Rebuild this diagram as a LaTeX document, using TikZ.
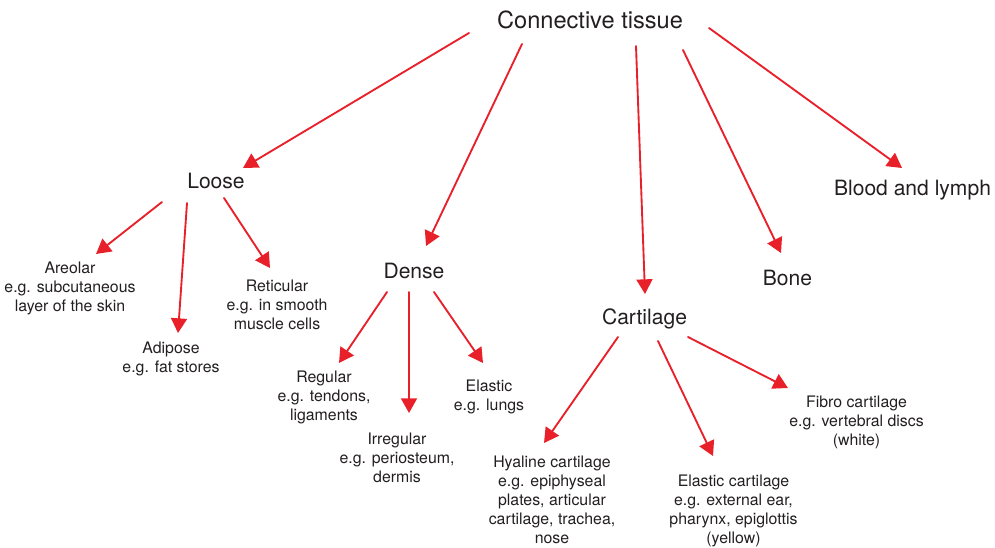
\documentclass[tikz,border=0pt]{standalone}
\usepackage{fontspec}
\setmainfont{TeX Gyre Heros}
\usetikzlibrary{arrows.meta,calc}

\begin{document}
\begin{tikzpicture}[
    x=0.75pt,
    y=-0.75pt,
    line cap=round,
    line join=round
]

\definecolor{ArrowRed}{HTML}{E8202A}
\definecolor{InkGray}{HTML}{231F20}

\tikzset{
    top label/.style={
        text=InkGray,
        inner sep=0pt,
        anchor=base,
        font=\fontsize{17.7}{21}\selectfont
    },
    group label/.style={
        text=InkGray,
        inner sep=0pt,
        anchor=base,
        font=\fontsize{15.8}{19}\selectfont
    },
    % multi-line: base sits on the last line
    type label/.style={
        text=InkGray,
        inner sep=0pt,
        anchor=base,
        align=center,
        font=\fontsize{11.9}{14.25}\selectfont
    },
    branch/.style={
        draw=ArrowRed,
        line width=1.4pt,
        -{Triangle[length=11pt,width=12pt]}
    }
}

\useasboundingbox (0,0) rectangle (995,547);

\node[top label] (ct) at (590,28) {Connective tissue};

\node[group label] (loose) at (216,188) {Loose};
\node[group label] (dense) at (414,278) {Dense};
\node[group label] (cartilage) at (644.5,324) {Cartilage};
\node[group label] (bone) at (787.5,285) {Bone};
\node[group label] (blood) at (912.5,195) {Blood and lymph};

\node[type label] (areolar) at (70,311) {Areolar\\e.g. subcutaneous\\layer of the skin};
\node[type label] (adipose) at (171,372) {Adipose\\e.g. fat stores};
\node[type label] (reticular) at (277,329) {Reticular\\e.g. in smooth\\muscle cells};

\node[type label] (regular) at (324,420) {Regular\\e.g. tendons,\\ligaments};
\node[type label] (irregular) at (397,482) {Irregular\\e.g. periosteum,\\dermis};
\node[type label] (elastic) at (489,410) {Elastic\\e.g. lungs};

\node[type label] (hyaline) at (552,543) {Hyaline cartilage\\e.g. epiphyseal\\plates, articular\\cartilage, trachea,\\nose};
\node[type label] (elasticcart) at (733.5,543) {Elastic cartilage\\e.g. external ear,\\pharynx, epiglottis\\(yellow)};
\node[type label] (fibro) at (856.5,445) {Fibro cartilage\\e.g. vertebral discs\\(white)};

% main branches
\draw[branch] ($(ct.base)+(-121,5)$) -- ($(loose.base)+(27,-20)$);
\draw[branch] ($(ct.base)+(-68,16)$) -- ($(dense.base)+(12,-32)$);
\draw[branch] ($(ct.base)+(46,18)$) -- ($(cartilage.base)+(0.5,-30)$);
\draw[branch] ($(ct.base)+(93,22)$) -- ($(bone.base)+(-6.5,-32)$);
\draw[branch] ($(ct.base)+(119,0)$) -- ($(blood.base)+(-10.5,-27)$);

% loose
\draw[branch] ($(loose.base)+(-54,14)$) -- ($(areolar.base)+(26,-57)$);
\draw[branch] ($(loose.base)+(-29,15)$) -- ($(adipose.base)+(7,-39)$);
\draw[branch] ($(loose.base)+(8,10)$) -- ($(reticular.base)+(-7,-61)$);

% dense
\draw[branch] ($(dense.base)+(-27,14)$) -- ($(regular.base)+(15,-57)$);
\draw[branch] ($(dense.base)+(-5,14)$) -- ($(irregular.base)+(12,-69)$);
\draw[branch] ($(dense.base)+(20,14)$) -- ($(elastic.base)+(-6,-47)$);

% cartilage
\draw[branch] ($(cartilage.base)+(-26.5,13)$) -- ($(hyaline.base)+(-8,-100)$);
\draw[branch] ($(cartilage.base)+(13.5,17)$) -- ($(elasticcart.base)+(-20.5,-87)$);
\draw[branch] ($(cartilage.base)+(43.5,13)$) -- ($(fibro.base)+(-68.5,-57)$);

\end{tikzpicture}
\end{document}
